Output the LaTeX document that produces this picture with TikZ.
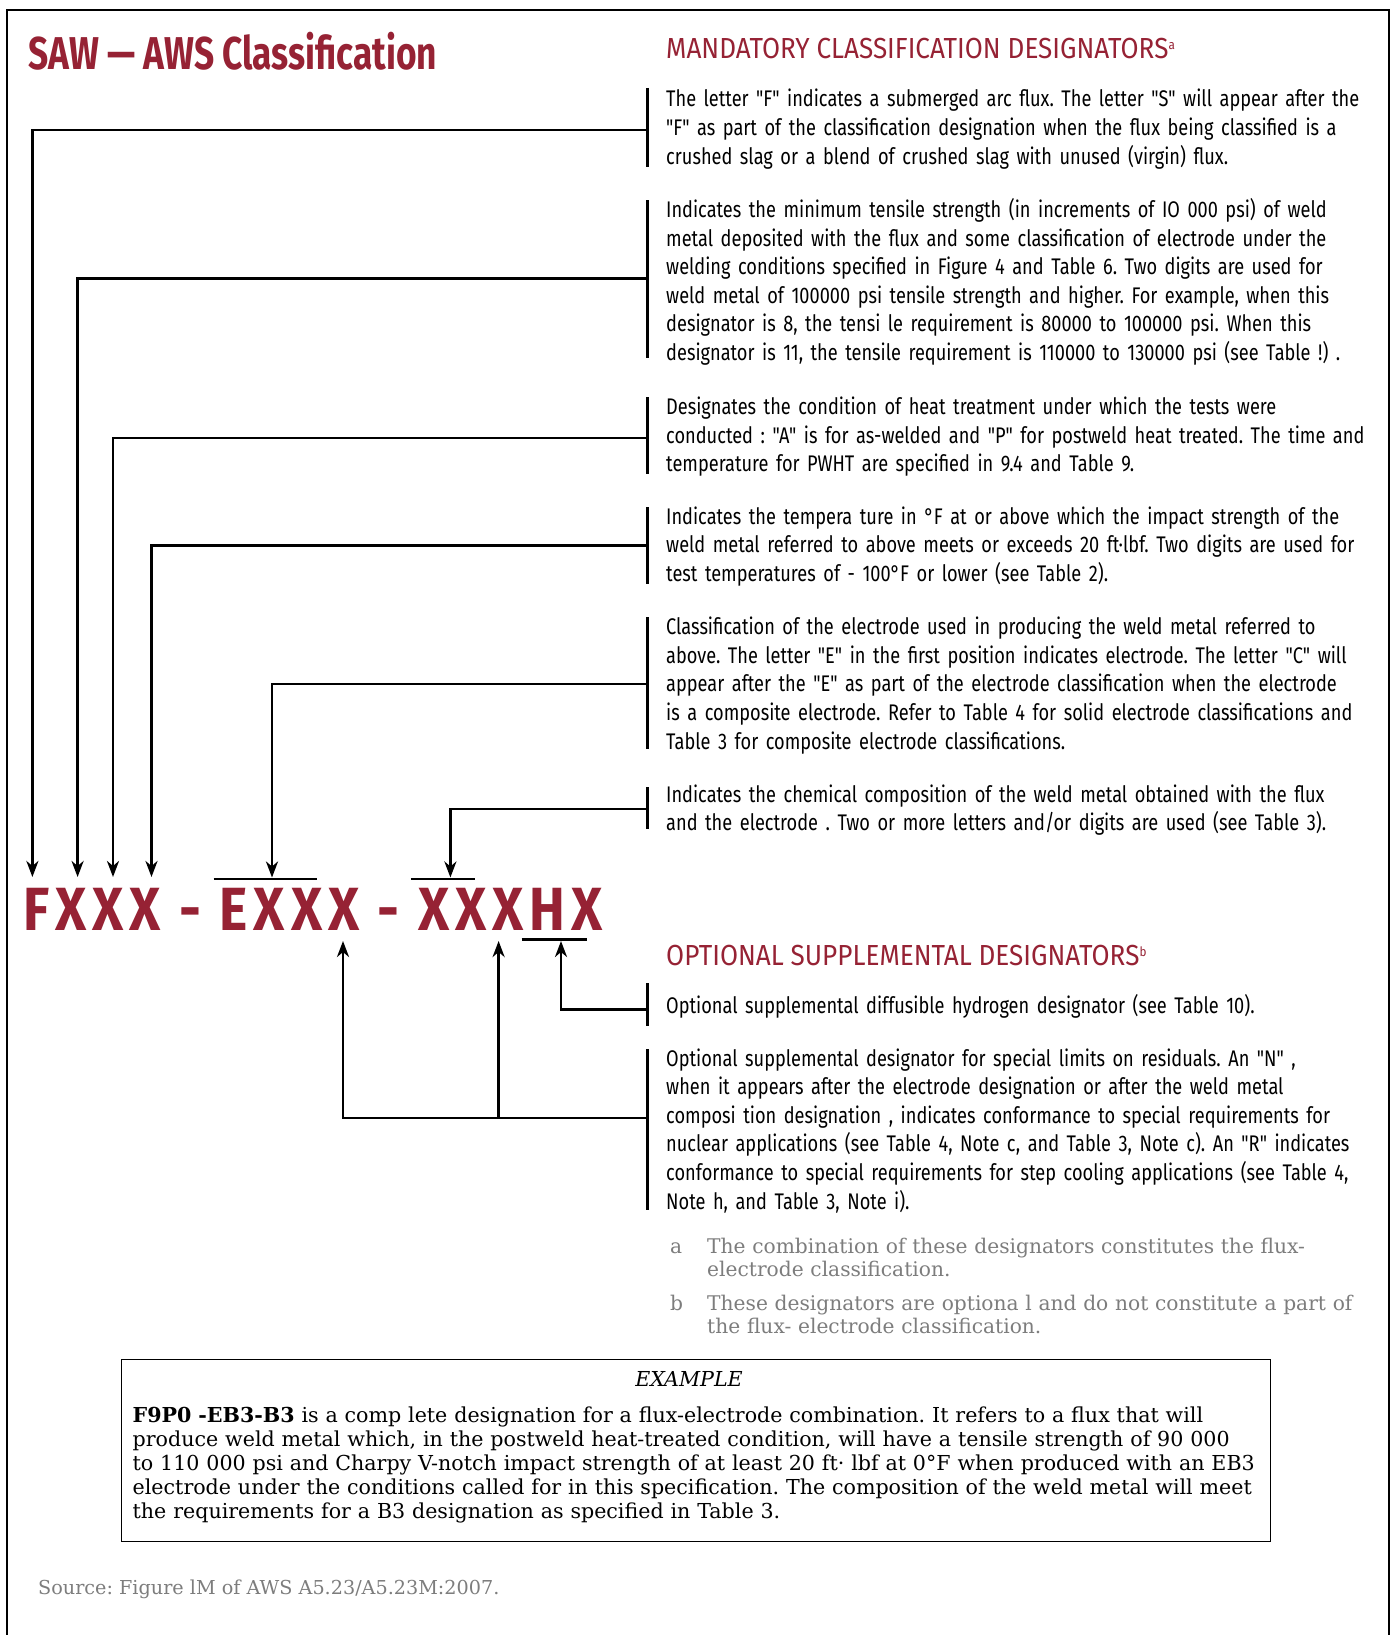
\documentclass[tikz,border=0pt]{standalone}
\usepackage{fontspec}
\setmainfont{Fira Sans}
\newfontfamily\bodyf{Fira Sans}[FakeStretch=0.805]
\newfontfamily\headf{Fira Sans}[FakeStretch=0.90]
\newfontfamily\titlef{Fira Sans}[FakeStretch=0.767]
\newfontfamily\bigf{Fira Sans}[FakeStretch=0.88,LetterSpace=9.7]
\newfontfamily\serf{DejaVu Serif}
\usetikzlibrary{arrows.meta}
\definecolor{awsred}{RGB}{150,34,52}
\definecolor{notegray}{RGB}{125,125,125}
\newcommand{\supmark}[1]{\raisebox{9pt}{\fontsize{13}{13}\selectfont #1}}
\tikzset{
  body/.style={anchor=base west, inner sep=0pt, text width=740pt, align=left,
    font=\bodyf\fontsize{22.6}{28.6}\selectfont},
  headtext/.style={anchor=base west, inner sep=0pt, text=awsred,
    font=\headf\fontsize{29}{32}\selectfont},
  barline/.style={line width=2.6pt},
  conn/.style={line width=2.6pt, -{Stealth[length=16pt,width=12pt,inset=5pt]}},
  ovl/.style={line width=2.6pt},
  note/.style={anchor=base west, inner sep=0pt, text=notegray,
    font=\serf\fontsize{20.2}{23.5}\selectfont},
  notetext/.style={note, text width=660pt, align=left},
}
\begin{document}
\frenchspacing
\begin{tikzpicture}[x=1pt,y=-1pt]
\useasboundingbox (0,0) rectangle (1392,1635);
\fill[white] (0,0) rectangle (1392,1635);
% outer frame (open at bottom)
\draw[line width=2.8pt] (7,1635) -- (7,10) -- (1389,10) -- (1389,1635);

% title and headings
\node[anchor=base west, inner sep=0pt, text=awsred,
  font=\titlef\bfseries\fontsize{46}{50}\selectfont] (title) at (28,70) {SAW — AWS Classification};
\node[headtext] (mand) at (666,58.5) {MANDATORY CLASSIFICATION DESIGNATORS\supmark{a}};
\node[headtext] (opt) at (666,965) {OPTIONAL SUPPLEMENTAL DESIGNATORS\supmark{b}};

% designation
\node[anchor=base west, inner sep=0pt, text=awsred,
  font=\bigf\bfseries\fontsize{61}{64}\selectfont] (desig) at (23,930) {FXXX - EXXX - XXXHX};

% paragraphs
\node[body] (p1) at (666,107) {The letter "F" indicates a submerged arc flux. The letter "S" will appear after the\\
"F" as part of the classification designation when the flux being classified is a\\
crushed slag or a blend of crushed slag with unused (virgin) flux.};
\node[body] (p2) at (666,217.5) {Indicates the minimum tensile strength (in increments of IO 000 psi) of weld\\
metal deposited with the flux and some classification of electrode under the\\
welding conditions specified in Figure 4 and Table 6. Two digits are used for\\
weld metal of 100000 psi tensile strength and higher. For example, when this\\
designator is 8, the tensi le requirement is 80000 to 100000 psi. When this\\
designator is 11, the tensile requirement is 110000 to 130000 psi (see Table !) .};
\node[body] (p3) at (666,414.6) {Designates the condition of heat treatment under which the tests were\\
conducted : "A" is for as-welded and "P" for postweld heat treated. The time and\\
temperature for PWHT are specified in 9.4 and Table 9.};
\node[body] (p4) at (666,524) {Indicates the tempera ture in °F at or above which the impact strength of the\\
weld metal referred to above meets or exceeds 20 ft·lbf. Two digits are used for\\
test temperatures of - 100°F or lower (see Table 2).};
\node[body] (p5) at (666,634.6) {Classification of the electrode used in producing the weld metal referred to\\
above. The letter "E" in the first position indicates electrode. The letter "C" will\\
appear after the "E" as part of the electrode classification when the electrode\\
is a composite electrode. Refer to Table 4 for solid electrode classifications and\\
Table 3 for composite electrode classifications.};
\node[body] (p6) at (666,802) {Indicates the chemical composition of the weld metal obtained with the flux\\
and the electrode . Two or more letters and/or digits are used (see Table 3).};
\node[body] (p7) at (666,1013) {Optional supplemental diffusible hydrogen designator (see Table 10).};
\node[body] (p8) at (666,1066) {Optional supplemental designator for special limits on residuals. An "N" ,\\
when it appears after the electrode designation or after the weld metal\\
composi tion designation , indicates conformance to special requirements for\\
nuclear applications (see Table 4, Note c, and Table 3, Note c). An "R" indicates\\
conformance to special requirements for step cooling applications (see Table 4,\\
Note h, and Table 3, Note i).};

% bars
\draw[barline] (647.5,88) -- (647.5,166.7);
\draw[barline] (647.5,200) -- (647.5,357.6);
\draw[barline] (647.5,397) -- (647.5,474.4);
\draw[barline] (647.5,507) -- (647.5,584);
\draw[barline] (647.5,617) -- (647.5,749);
\draw[barline] (647.5,787) -- (647.5,828.5);
\draw[barline] (647.5,983) -- (647.5,1026);
\draw[barline] (647.5,1049) -- (647.5,1209.5);

% connector end points
\coordinate (c1) at (647.5,130);
\coordinate (c2) at (647.5,278.4);
\coordinate (c3) at (647.5,438);
\coordinate (c4) at (647.5,545.3);
\coordinate (c5) at (647.5,684);
\coordinate (c6) at (647.5,809);
\coordinate (c7) at (647.5,1009.3);
\coordinate (c8) at (647.5,1117.8);
\coordinate (t1) at (32.4,877);
\coordinate (t2) at (77.6,877);
\coordinate (t3) at (113,877);
\coordinate (t4) at (151.5,877);
\coordinate (t5) at (272,877.5);
\coordinate (t6) at (450.4,877.5);
\coordinate (t7) at (561,941);
\coordinate (t8a) at (343,941);
\coordinate (t8b) at (498.6,941);
\coordinate (j8) at (498.6,1117.8);

% overlines
\draw[ovl] (213.5,879) -- (316.5,879);
\draw[ovl] (410.8,879) -- (475,879);
\draw[ovl] (521.7,939.3) -- (587.3,939.3);

% connectors
\draw[conn] (c1) -| (t1);
\draw[conn] (c2) -| (t2);
\draw[conn] (c3) -| (t3);
\draw[conn] (c4) -| (t4);
\draw[conn] (c5) -| (t5);
\draw[conn] (c6) -| (t6);
\draw[conn] (c7) -| (t7);
\draw[conn] (c8) -| (t8a);
\draw[conn] (j8) -- (t8b);

% footnotes
\node[note] (na) at (670,1253) {a};
\node[notetext] (nat) at (707,1253) {The combination of these designators constitutes the flux-\\
electrode classification.};
\node[note] (nb) at (670,1310) {b};
\node[notetext] (nbt) at (707,1310) {These designators are optiona l and do not constitute a part of\\
the flux- electrode classification.};

% example box
\node[draw, line width=1.4pt, inner sep=0pt, minimum width=1149pt, minimum height=182pt, anchor=north west] (exbox) at (121,1359) {};
\node[anchor=base, inner sep=0pt, font=\serf\itshape\fontsize{20.6}{23}\selectfont] (exhead) at (689,1386.5) {EXAMPLE};
\node[anchor=base west, inner sep=0pt, text width=1140pt, align=left,
  font=\serf\fontsize{20.6}{23.9}\selectfont] (extext) at (132.5,1422.5) {\textbf{F9P0 -EB3-B3} is a comp lete designation for a flux-electrode combination. It refers to a flux that will\\
produce weld metal which, in the postweld heat-treated condition, will have a tensile strength of 90 000\\
to 110 000 psi and Charpy V-notch impact strength of at least 20 ft· lbf at 0°F when produced with an EB3\\
electrode under the conditions called for in this specification. The composition of the weld metal will meet\\
the requirements for a B3 designation as specified in Table 3.};

% source
\node[note, font=\serf\fontsize{19.2}{23}\selectfont] (src) at (38,1594) {Source: Figure lM of AWS A5.23/A5.23M:2007.};
\end{tikzpicture}
\end{document}
